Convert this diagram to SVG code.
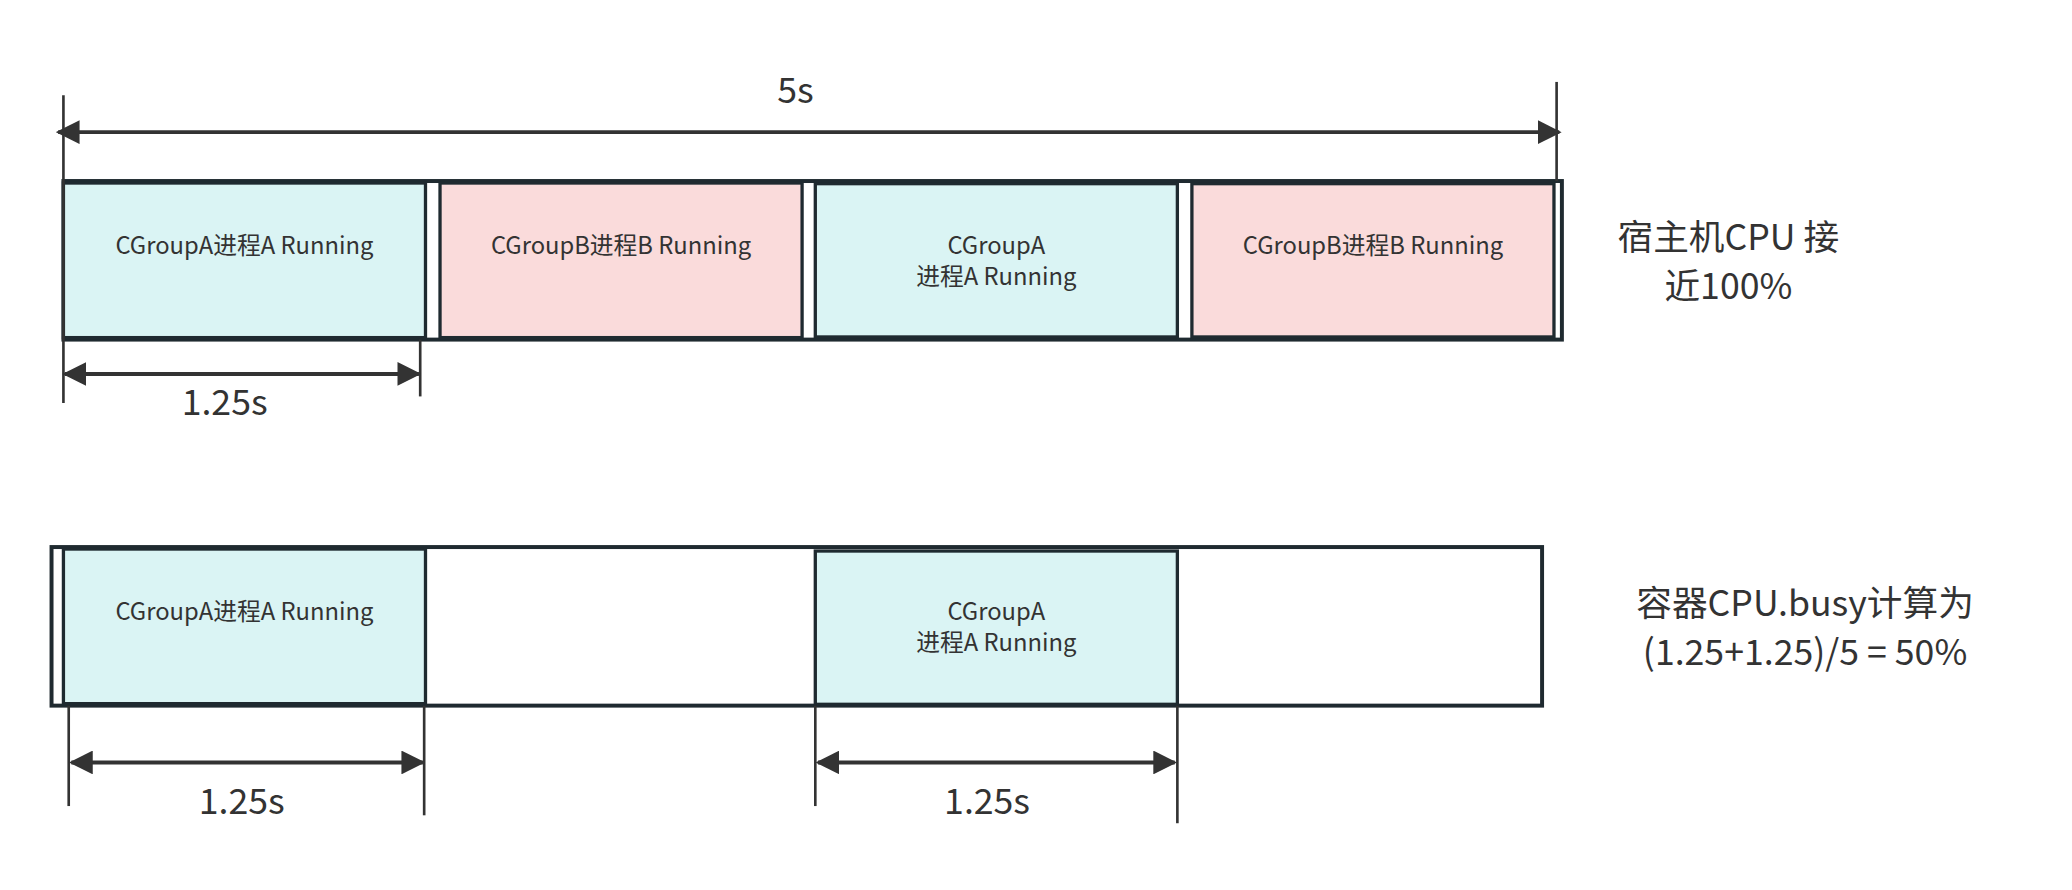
<svg xmlns="http://www.w3.org/2000/svg" width="2072" height="890" viewBox="0 0 2072 890">
<style>
.bar{fill:#fff;stroke:#1f2a30;stroke-width:3}
.a{fill:#daf4f4;stroke:#1f2a30;stroke-width:2.5}
.b{fill:#fadbdb;stroke:#1f2a30;stroke-width:2.5}
.t{font-family:"Noto Sans CJK SC","Liberation Sans",sans-serif;fill:#333;text-anchor:middle}
.s{font-size:18px}
.l{font-size:27px}
.ln{stroke:#333;stroke-width:2;fill:none}
.ar{stroke:#333;stroke-width:3;fill:none;marker-start:url(#h);marker-end:url(#h)}
</style>
<defs>
<marker id="h" viewBox="0 0 10 10" refX="9" refY="5" markerWidth="6" markerHeight="6" orient="auto-start-reverse" markerUnits="strokeWidth"><path d="M0,0 L10,5 L0,10 z" fill="#333"/></marker>
</defs>
<rect width="2072" height="890" fill="#fff"/>
<g transform="scale(1.3214)">
<g id="top-bar">
<rect class="bar" x="48" y="137" width="1134" height="120"/>
</g>
<g id="topA1"><rect class="a" x="48" y="138.5" width="274" height="117"/><text class="t s" x="185" y="192">CGroupA进程A Running</text></g>
<g id="topB1"><rect class="b" x="333" y="138.5" width="274" height="117"/><text class="t s" x="470" y="192">CGroupB进程B Running</text></g>
<g id="topA2"><rect class="a" x="617" y="139" width="274" height="116"/><text class="t s" x="754" y="192">CGroupA</text><text class="t s" x="754" y="216">进程A Running</text></g>
<g id="topB2"><rect class="b" x="902" y="139" width="274" height="116"/><text class="t s" x="1039" y="192">CGroupB进程B Running</text></g>
<g id="bottom-bar"><rect class="bar" x="39" y="414" width="1128" height="120"/></g>
<g id="botA1"><rect class="a" x="48" y="415.5" width="274" height="117"/><text class="t s" x="185" y="469">CGroupA进程A Running</text></g>
<g id="botA2"><rect class="a" x="617" y="417" width="274" height="116"/><text class="t s" x="754" y="469">CGroupA</text><text class="t s" x="754" y="493">进程A Running</text></g>
<g id="connectors">
<line class="ln" x1="48" y1="72" x2="48" y2="305"/>
<line class="ln" x1="1178" y1="62" x2="1178" y2="137"/>
<line class="ar" x1="44" y1="100" x2="1180" y2="100"/>
<line class="ln" x1="318" y1="257" x2="318" y2="300"/>
<line class="ar" x1="49" y1="283" x2="317" y2="283"/>
<line class="ln" x1="52" y1="534" x2="52" y2="610"/>
<line class="ln" x1="321" y1="534" x2="321" y2="617"/>
<line class="ln" x1="617" y1="534" x2="617" y2="610"/>
<line class="ln" x1="891" y1="534" x2="891" y2="623"/>
<line class="ar" x1="54" y1="577" x2="320" y2="577"/>
<line class="ar" x1="619" y1="577" x2="889" y2="577"/>
</g>
<g id="labels">
<text class="t l" x="602" y="78">5s</text>
<text class="t l" x="170" y="314">1.25s</text>
<text class="t l" x="183" y="616">1.25s</text>
<text class="t l" x="747" y="616">1.25s</text>
<text class="t l" x="1308" y="189">宿主机CPU 接</text>
<text class="t l" x="1308" y="226">近100%</text>
<text class="t l" x="1366" y="466">容器CPU.busy计算为</text>
<text class="t l" x="1366" y="503">(1.25+1.25)/5 = 50%</text>
</g>
</g>
</svg>
